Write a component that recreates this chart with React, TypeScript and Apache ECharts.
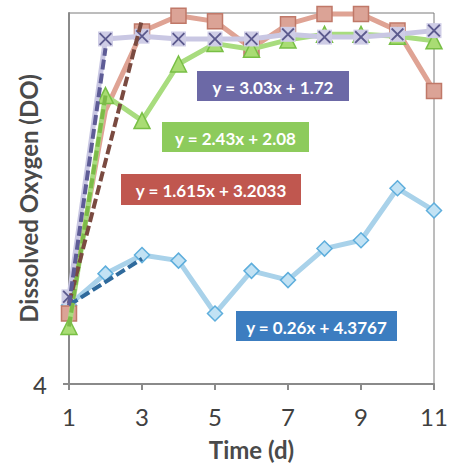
import React, { useEffect, useRef } from "react";
import * as echarts from "echarts";

const days = [1, 2, 3, 4, 5, 6, 7, 8, 9, 10, 11];
const purpleDO = [4.94, 7.72, 7.75, 7.72, 7.72, 7.72, 7.77, 7.74, 7.74, 7.77, 7.81];
const redDO = [4.76, 6.95, 7.8, 7.97, 7.91, 7.62, 7.88, 7.99, 7.99, 7.81, 7.16];
const greenDO = [4.62, 7.11, 6.84, 7.45, 7.67, 7.61, 7.71, 7.77, 7.77, 7.75, 7.7];
const blueDO = [4.85, 5.19, 5.39, 5.33, 4.76, 5.22, 5.12, 5.46, 5.55, 6.11, 5.87];
// days whose red marker is not drawn in the reference
const redHiddenMarkerDays = [2];

const purpleTrendX = [1, 2];
const purpleTrendY = [4.85, 7.62];
const greenTrendX = [1, 2];
const greenTrendY = [4.62, 7.11];
const redTrendX = [1, 3];
const redTrendY = [4.87, 7.93];
const blueTrendX = [1, 3];
const blueTrendY = [4.85, 5.35];

const equations = ["y = 3.03x + 1.72", "y = 2.43x + 2.08", "y = 1.615x + 3.2033", "y = 0.26x + 4.3767"];

const xTicks = [1, 3, 5, 7, 9, 11];
const yTicks = [4];

const pair = (xs: number[], ys: number[]) => xs.map((x, i) => [x, ys[i]]);

const X_PATH =
  "path://M1,0 L5,4 L9,0 L10,1 L6,5 L10,9 L9,10 L5,6 L1,10 L0,9 L4,5 L0,1 Z";

const FONT = "Lato, 'Open Sans', sans-serif";

export default function App() {
  const ref = useRef<HTMLDivElement>(null);
  useEffect(() => {
    if (!ref.current) return;
    const chart = echarts.init(ref.current, undefined, { renderer: "svg" });

    const eqBox = (x: number, y: number, w: number, h: number, color: string, text: string) => ({
      type: "group",
      left: x,
      top: y,
      z: 100,
      children: [
        { type: "rect", shape: { x: 0, y: 0, width: w, height: h }, style: { fill: color } },
        {
          type: "text",
          x: w / 2,
          y: h / 2 + 1,
          style: {
            text,
            fill: "#ffffff",
            font: `bold 17px ${FONT}`,
            textAlign: "center",
            textVerticalAlign: "middle",
          },
        },
      ],
    });

    const trend = (xs: number[], ys: number[], color: string) => ({
      type: "line",
      data: pair(xs, ys),
      symbol: "none",
      z: 10,
      lineStyle: { color, width: 4, type: [10, 4] },
    });

    const redData = days.map((d, i) =>
      redHiddenMarkerDays.includes(d)
        ? { value: [d, redDO[i]], symbol: "none" }
        : { value: [d, redDO[i]] }
    );

    chart.setOption({
      animation: false,
      backgroundColor: "#ffffff",
      grid: {
        left: 69,
        right: 16,
        top: 13,
        bottom: 82,
        show: true,
        borderColor: "#7a7a7a",
        borderWidth: 1,
        containLabel: false,
        outerBoundsMode: "none",
      },
      xAxis: {
        type: "value",
        min: 1,
        max: 11,
        interval: 2,
        name: "Time (d)",
        nameLocation: "middle",
        nameGap: 53,
        nameMoveOverlap: false,
        nameTextStyle: { fontFamily: FONT, fontWeight: "bold", fontSize: 24, color: "#4a4a4a" },
        axisLine: { show: true, lineStyle: { color: "#8a8a8a", width: 2 } },
        axisTick: { show: true, length: 6, lineStyle: { color: "#8a8a8a", width: 2 } },
        axisLabel: {
          margin: 20,
          fontFamily: FONT,
          fontSize: 24,
          color: "#404040",
          formatter: (v: number) => (xTicks.includes(v) ? String(v) : ""),
        },
        splitLine: { show: false },
      },
      yAxis: {
        type: "value",
        min: 4,
        max: 8,
        interval: 4,
        name: "Dissolved Oxygen (DO)",
        nameLocation: "middle",
        nameGap: 29,
        nameMoveOverlap: false,
        nameTextStyle: { fontFamily: FONT, fontWeight: "bold", fontSize: 24, color: "#4a4a4a" },
        axisLine: { show: true, lineStyle: { color: "#8a8a8a", width: 2 } },
        axisTick: { show: true, length: 6, lineStyle: { color: "#8a8a8a", width: 2 } },
        axisLabel: {
          margin: 22,
          fontFamily: FONT,
          fontSize: 24,
          color: "#404040",
          showMaxLabel: false,
          formatter: (v: number) => (yTicks.includes(v) ? String(v) : ""),
        },
        splitLine: { show: false },
      },
      series: [
        {
          type: "line",
          data: pair(days, blueDO),
          symbol: "diamond",
          symbolSize: 15,
          lineStyle: { color: "#a9d2ea", width: 5 },
          itemStyle: { color: "#c2e2f4", borderColor: "#5eaedc", borderWidth: 1.5 },
          z: 2,
        },
        {
          type: "line",
          data: redData,
          symbol: "rect",
          symbolSize: 15,
          clip: false,
          lineStyle: { color: "#dfa394", width: 5 },
          itemStyle: { color: "#dba396", borderColor: "#c07868", borderWidth: 1.5 },
          z: 3,
        },
        {
          type: "line",
          data: pair(days, greenDO),
          symbol: "triangle",
          symbolSize: 16,
          lineStyle: { color: "#a8dc7e", width: 5 },
          itemStyle: { color: "#a9dc74", borderColor: "#78bf45", borderWidth: 1.5 },
          z: 4,
        },
        {
          type: "line",
          data: pair(days, purpleDO),
          symbol: "rect",
          symbolSize: 15,
          lineStyle: { color: "#c9c7e3", width: 5 },
          itemStyle: { color: "#cfcde6", borderColor: "#cfcde6", borderWidth: 0 },
          z: 5,
        },
        {
          type: "line",
          data: pair(days, purpleDO),
          symbol: X_PATH,
          symbolSize: 13,
          lineStyle: { opacity: 0 },
          itemStyle: { color: "#5c5a8e" },
          z: 6,
        },
        trend(blueTrendX, blueTrendY, "#2f6a9c"),
        trend(greenTrendX, greenTrendY, "#7dbb48"),
        trend(redTrendX, redTrendY, "#7a4a40"),
        trend(purpleTrendX, purpleTrendY, "#5e5c96"),
      ],
      graphic: [
        eqBox(197, 71, 152, 30, "#6c69a6", equations[0]),
        eqBox(162, 122, 147, 30, "#8dcb5c", equations[1]),
        eqBox(121, 174, 180, 31, "#c0574f", equations[2]),
        eqBox(236, 311, 161, 30, "#3c7dc0", equations[3]),
      ],
    });
    return () => chart.dispose();
  }, []);

  return (
    <div
      ref={ref}
      style={{ position: "absolute", left: 0, top: 0, width: 450, height: 466, background: "#fff" }}
    />
  );
}
